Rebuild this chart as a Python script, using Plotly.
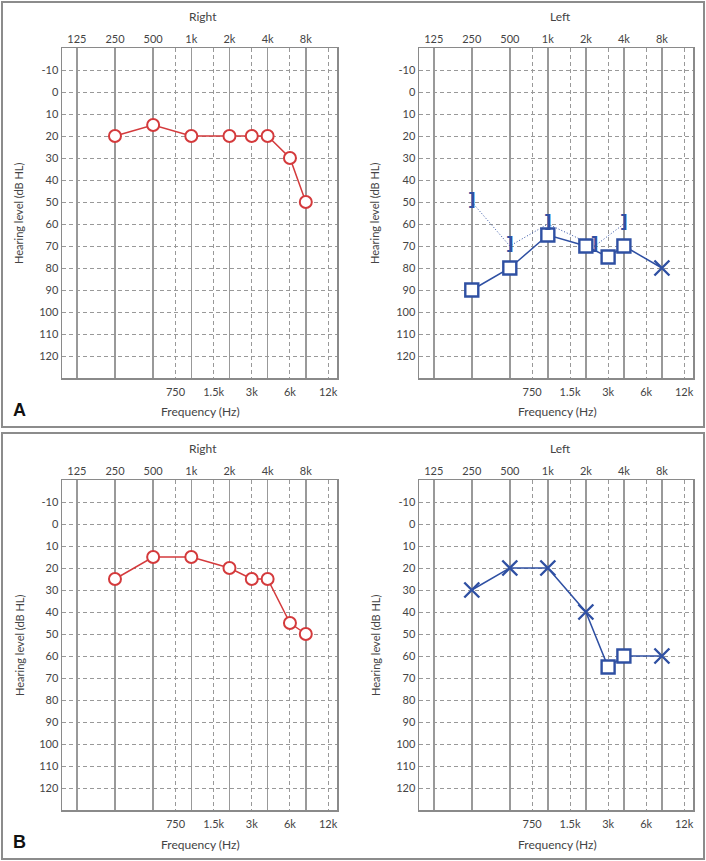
import math
import plotly.graph_objects as go

# ---------------- data ----------------
octave_freqs = [125, 250, 500, 1000, 2000, 4000, 8000]
octave_labels = ["125", "250", "500", "1k", "2k", "4k", "8k"]
mid_freqs = [750, 1500, 3000, 6000, 12000]
mid_labels = ["750", "1.5k", "3k", "6k", "12k"]
db_ticks = list(range(-10, 121, 10))
db_labels = [str(v) for v in db_ticks]

a_right_freq = [250, 500, 1000, 2000, 3000, 4000, 6000, 8000]
a_right_db = [20, 15, 20, 20, 20, 20, 30, 50]

a_left_freq = [250, 500, 1000, 2000, 3000, 4000, 8000]
a_left_db = [90, 80, 65, 70, 75, 70, 80]
a_left_sym = ["square", "square", "square", "square", "square", "square", "x-thin"]

a_left_bc_freq = [250, 500, 1000, 2350, 4000]
a_left_bc_db = [50, 70, 60, 70, 60]

b_right_freq = [250, 500, 1000, 2000, 3000, 4000, 6000, 8000]
b_right_db = [25, 15, 15, 20, 25, 25, 45, 50]

b_left_freq = [250, 500, 1000, 2000, 3000, 4000, 8000]
b_left_db = [30, 20, 20, 40, 65, 60, 60]
b_left_sym = ["x-thin", "x-thin", "x-thin", "x-thin", "square", "square", "x-thin"]

# ---------------- style ----------------
W, H = 706, 861
RED = "#d43a3c"
BLUE = "#2f50a3"
TXT = "#444444"
GRID = "#999999"
FONT = "Lato"
XR = [math.log10(95.5), math.log10(14100)]
YR = [130, -20]


def px_x(x0, x1):
    return [x0 / W, x1 / W]


def px_y(top, bottom):
    return [(H - bottom) / H, (H - top) / H]


panels = [
    dict(xd=px_x(62, 337), yd=px_y(48, 378)),
    dict(xd=px_x(419, 693), yd=px_y(48, 378)),
    dict(xd=px_x(62, 337), yd=px_y(480, 810)),
    dict(xd=px_x(419, 693), yd=px_y(480, 810)),
]

fig = go.Figure()
layout = dict(
    width=W, height=H, margin=dict(l=0, r=0, t=0, b=0),
    paper_bgcolor="white", plot_bgcolor="white", showlegend=False,
    font=dict(family=FONT, color=TXT, size=11),
)

for i, p in enumerate(panels):
    xb = 2 * i + 1
    xt = 2 * i + 2
    yn = i + 1
    xb_name = "xaxis" if xb == 1 else f"xaxis{xb}"
    xt_name = f"xaxis{xt}"
    y_name = "yaxis" if yn == 1 else f"yaxis{yn}"
    xb_ref = "x" if xb == 1 else f"x{xb}"
    y_ref = "y" if yn == 1 else f"y{yn}"
    layout[xb_name] = dict(
        type="log", range=XR, domain=p["xd"], anchor=y_ref, side="bottom",
        tickmode="array", tickvals=mid_freqs, ticktext=mid_labels,
        showgrid=True, gridcolor=GRID, gridwidth=1, griddash="4px,3px",
        showline=True, mirror=True, linecolor="#8a8a8a", linewidth=1.5,
        ticks="", zeroline=False, fixedrange=True, automargin=False,
        ticklabelstandoff=3,
        tickfont=dict(size=11, color=TXT),
    )
    layout[xt_name] = dict(
        type="log", range=XR, anchor=y_ref, side="top",
        overlaying=xb_ref,
        tickmode="array", tickvals=octave_freqs, ticktext=octave_labels,
        showgrid=True, gridcolor=GRID, gridwidth=1.5,
        showline=False, ticks="", zeroline=False, fixedrange=True, automargin=False,
        ticklabelstandoff=2,
        tickfont=dict(size=11, color=TXT),
    )
    layout[y_name] = dict(
        range=YR, domain=p["yd"], anchor=xb_ref,
        tickmode="array", tickvals=db_ticks, ticktext=db_labels,
        showgrid=True, gridcolor=GRID, gridwidth=1, griddash="4px,3px",
        showline=True, mirror=True, linecolor="#8a8a8a", linewidth=1.5,
        ticks="", zeroline=False, fixedrange=True, automargin=False,
        tickfont=dict(size=11, color=TXT),
    )
    p["xb"] = xb_ref
    p["xt"] = f"x{xt}"
    p["y"] = y_ref

fig.update_layout(**layout)


def series(p, f, d, color, sym, size, lw):
    # connecting line on the base subplot
    fig.add_trace(go.Scatter(
        x=f, y=d, xaxis=p["xb"], yaxis=p["y"], mode="lines",
        line=dict(color=color, width=1.5), hoverinfo="skip"))
    # symbols on the overlay subplot (drawn above the line)
    fig.add_trace(go.Scatter(
        x=f, y=d, xaxis=p["xt"], yaxis=p["y"], mode="markers",
        marker=dict(symbol=sym, size=size, color="white", opacity=1,
                    line=dict(color=color, width=lw)),
        cliponaxis=False, hoverinfo="skip"))


series(panels[0], a_right_freq, a_right_db, RED, "circle", 12, 2)

# masked bone conduction (left): dotted line with ] symbols
fig.add_trace(go.Scatter(
    x=a_left_bc_freq, y=a_left_bc_db, xaxis=panels[1]["xb"], yaxis=panels[1]["y"],
    mode="lines", line=dict(color=BLUE, width=1, dash="1px,2px"),
    hoverinfo="skip"))
series(panels[1], a_left_freq, a_left_db, BLUE,
       a_left_sym, [13 if s == "square" else 15 for s in a_left_sym], 2.4)
fig.add_trace(go.Scatter(
    x=a_left_bc_freq, y=a_left_bc_db, xaxis=panels[1]["xt"], yaxis=panels[1]["y"],
    mode="text", text=["<b>]</b>"] * len(a_left_bc_freq), textposition="middle center",
    textfont=dict(family="DejaVu Sans", size=17, color=BLUE),
    hoverinfo="skip"))

series(panels[2], b_right_freq, b_right_db, RED, "circle", 12, 2)
series(panels[3], b_left_freq, b_left_db, BLUE,
       b_left_sym, [13 if s == "square" else 15 for s in b_left_sym], 2.4)

# ---------------- frames and annotations ----------------
def frame(top, bottom):
    fig.add_shape(type="rect", xref="paper", yref="paper",
                  x0=2 / W, x1=704 / W, y0=(H - bottom) / H, y1=(H - top) / H,
                  line=dict(color="#8c8c8c", width=2), fillcolor="rgba(0,0,0,0)")


frame(2, 427)
frame(433, 859)


def ann(text, x, y, size=11, angle=0, bold=False, family=FONT, color=TXT):
    fig.add_annotation(text=f"<b>{text}</b>" if bold else text,
                       xref="paper", yref="paper", x=x / W, y=(H - y) / H,
                       xanchor="center", yanchor="middle", showarrow=False,
                       textangle=angle, font=dict(size=size, family=family, color=color))


for off, letter in [(0, "A"), (432, "B")]:
    ann("Right", 203, 17 + off, size=12)
    ann("Left", 560, 17 + off, size=12)
    ann("Frequency (Hz)", 200, 412 + off, size=12)
    ann("Frequency (Hz)", 557, 412 + off, size=12)
    ann("Hearing level (dB HL)", 19, 213 + off, size=11, angle=-90)
    ann("Hearing level (dB HL)", 375, 213 + off, size=11, angle=-90)
    ann(letter, 19, 410 + off, size=18, bold=True, family="Liberation Sans", color="#111111")

fig.write_html("out.html", config={"displayModeBar": False, "staticPlot": True},
               post_script="document.body.style.margin='0';document.body.style.overflow='hidden';")
